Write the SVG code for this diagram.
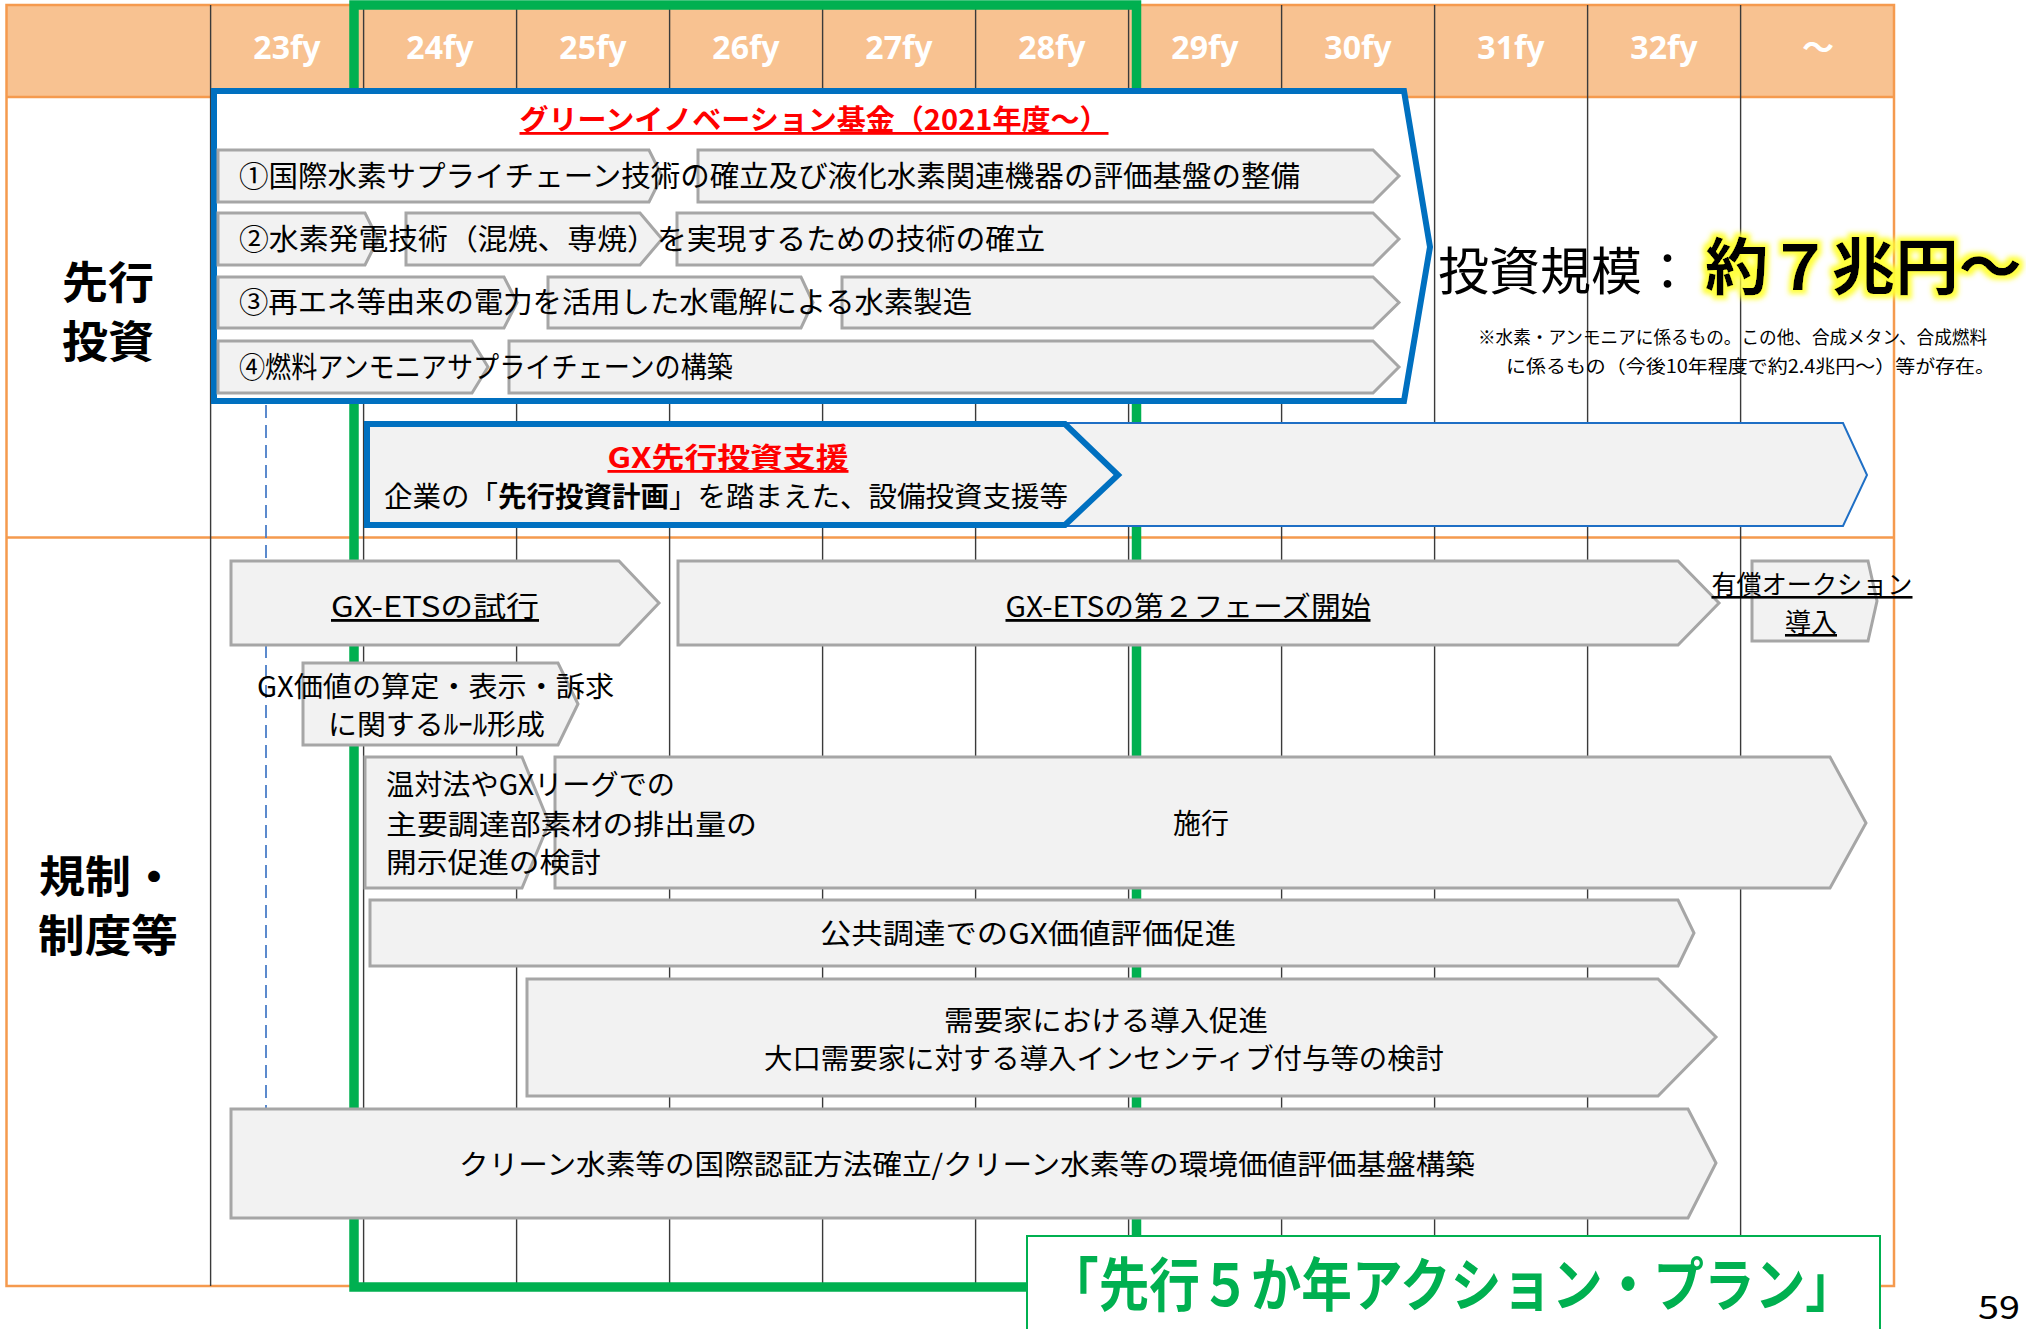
<svg xmlns="http://www.w3.org/2000/svg" width="2026" height="1329" viewBox="0 0 2026 1329">
<defs>
<style>
text{font-family:"Noto Sans CJK JP","Noto Sans",sans-serif;fill:#000}
.hd{font-family:"Noto Sans","Noto Sans CJK JP",sans-serif;font-weight:700;font-size:32px;fill:#fff;text-anchor:middle}
.col{stroke:#3a3a3a;stroke-width:1.4}
.org{stroke:#F59A4E;stroke-width:2.5;fill:none}
.chev{fill:#F2F2F2;stroke:#A6A6A6;stroke-width:3}
.t29{font-size:29px}
.t28{font-size:28px}
.mid{text-anchor:middle}
.ul{text-decoration:underline}
.side{font-size:44px;font-weight:700;text-anchor:middle}
</style>
<filter id="glow" x="-10%" y="-30%" width="120%" height="160%">
<feMorphology in="SourceAlpha" operator="dilate" radius="3.5" result="d"/>
<feGaussianBlur in="d" stdDeviation="2.8" result="b"/>
<feFlood flood-color="#FFFF33" flood-opacity="0.95"/>
<feComposite in2="b" operator="in" result="g"/>
<feMerge><feMergeNode in="g"/><feMergeNode in="SourceGraphic"/></feMerge>
</filter>
</defs>
<rect width="2026" height="1329" fill="#fff"/>

<g id="grid">
<rect x="6.5" y="5" width="1887.5" height="92" fill="#F8C291"/>
<g class="org">
<rect x="6.5" y="5" width="1887.5" height="1281"/>
<line x1="6.5" y1="97" x2="1894" y2="97"/>
<line x1="6.5" y1="537.5" x2="1894" y2="537.5"/>
</g>
<g class="col">
<line x1="210.6" y1="5" x2="210.6" y2="1286"/>
<line x1="363.6" y1="5" x2="363.6" y2="1286"/>
<line x1="516.6" y1="5" x2="516.6" y2="1286"/>
<line x1="669.6" y1="5" x2="669.6" y2="1286"/>
<line x1="822.6" y1="5" x2="822.6" y2="1286"/>
<line x1="975.6" y1="5" x2="975.6" y2="1286"/>
<line x1="1128.6" y1="5" x2="1128.6" y2="1286"/>
<line x1="1281.6" y1="5" x2="1281.6" y2="1286"/>
<line x1="1434.6" y1="5" x2="1434.6" y2="1286"/>
<line x1="1587.6" y1="5" x2="1587.6" y2="1286"/>
<line x1="1740.6" y1="5" x2="1740.6" y2="1286"/>
</g>
<g id="header-labels">
<text class="hd" x="287" y="59">23fy</text>
<text class="hd" x="440" y="59">24fy</text>
<text class="hd" x="593" y="59">25fy</text>
<text class="hd" x="746" y="59">26fy</text>
<text class="hd" x="899" y="59">27fy</text>
<text class="hd" x="1052" y="59">28fy</text>
<text class="hd" x="1205" y="59">29fy</text>
<text class="hd" x="1358" y="59">30fy</text>
<text class="hd" x="1511" y="59">31fy</text>
<text class="hd" x="1664" y="59">32fy</text>
<text class="hd" x="1818" y="59">～</text>
</g>
<text class="side" x="108" y="299" textLength="92" lengthAdjust="spacingAndGlyphs">先行</text>
<text class="side" x="108" y="358" textLength="92" lengthAdjust="spacingAndGlyphs">投資</text>
<text class="side" x="108" y="893" textLength="138" lengthAdjust="spacingAndGlyphs">規制・</text>
<text class="side" x="108" y="952" textLength="140" lengthAdjust="spacingAndGlyphs">制度等</text>
</g>

<rect id="five-year-frame" x="354" y="5" width="782.5" height="1282" fill="none" stroke="#00B050" stroke-width="9.5"/>

<g id="connectors">
<line x1="266" y1="405" x2="266" y2="1108" stroke="#4A7EC8" stroke-width="1.8" stroke-dasharray="13,7"/>
</g>

<g id="green-innovation-fund">
<path d="M214,91 H1404 L1430,247 L1404,401 H214 Z" fill="#fff" stroke="#0070C0" stroke-width="6"/>
<text class="ul" x="814" y="130" font-size="28" font-weight="700" text-anchor="middle" textLength="589" lengthAdjust="spacingAndGlyphs" style="fill:#FF0000">グリーンイノベーション基金（2021年度～）</text>
<path class="chev" d="M218,150 H649 L662,176 L649,202 H218 Z"/>
<path class="chev" d="M698,150 H1373 L1399,176 L1373,202 H698 Z"/>
<path class="chev" d="M218,213 H365 L378,239 L365,265 H218 Z"/>
<path class="chev" d="M406,213 H640 L662,239 L640,265 H406 Z"/>
<path class="chev" d="M677,213 H1373 L1399,239 L1373,265 H677 Z"/>
<path class="chev" d="M218,277 H504 L517,302.5 L504,328 H218 Z"/>
<path class="chev" d="M548,277 H801 L813,302.5 L801,328 H548 Z"/>
<path class="chev" d="M842,277 H1373 L1399,302.5 L1373,328 H842 Z"/>
<path class="chev" d="M218,341 H472 L488,367 L472,393 H218 Z"/>
<path class="chev" d="M509,341 H1373 L1399,367 L1373,393 H509 Z"/>
<text class="t29" x="239" y="187" textLength="1061" lengthAdjust="spacingAndGlyphs">①国際水素サプライチェーン技術の確立及び液化水素関連機器の評価基盤の整備</text>
<text class="t29" x="239" y="250" textLength="806" lengthAdjust="spacingAndGlyphs">②水素発電技術（混焼、専焼）を実現するための技術の確立</text>
<text class="t29" x="239" y="313" textLength="733" lengthAdjust="spacingAndGlyphs">③再エネ等由来の電力を活用した水電解による水素製造</text>
<text class="t29" x="239" y="378" textLength="494" lengthAdjust="spacingAndGlyphs">④燃料アンモニアサプライチェーンの構築</text>
</g>

<g id="investment-scale">
<text x="1438" y="290" font-size="51">投資規模：</text>
<text x="1705" y="290" font-size="62" font-weight="700" filter="url(#glow)" textLength="317" lengthAdjust="spacingAndGlyphs">約７兆円～</text>
<text x="1478" y="344" font-size="18" textLength="509" lengthAdjust="spacingAndGlyphs">※水素・アンモニアに係るもの。この他、合成メタン、合成燃料</text>
<text x="1506" y="373" font-size="18" textLength="489" lengthAdjust="spacingAndGlyphs">に係るもの（今後10年程度で約2.4兆円～）等が存在。</text>
</g>

<g id="gx-investment-support">
<path d="M367,423 H1843 L1867,475 L1843,526 H367 Z" fill="#F2F2F2" stroke="#1F6FC5" stroke-width="2"/>
<path d="M367,424 H1065 L1118,475 L1065,525 H367 Z" fill="#F2F2F2" stroke="#0070C0" stroke-width="6"/>
<text class="ul" x="728" y="468" font-size="28" font-weight="700" text-anchor="middle" textLength="241" lengthAdjust="spacingAndGlyphs" style="fill:#FF0000">GX先行投資支援</text>
<text x="384" y="507" font-size="28.5">企業の「<tspan font-weight="700">先行投資計画</tspan>」を踏まえた、設備投資支援等</text>
</g>

<g id="gx-ets-trial">
<path class="chev" d="M231,561 H619 L659,603 L619,645 H231 Z"/>
<text class="t28 mid ul" x="435" y="617" textLength="208" lengthAdjust="spacingAndGlyphs">GX-ETSの試行</text>
</g>
<g id="gx-ets-phase2">
<path class="chev" d="M678,561 H1678 L1719,603 L1678,645 H678 Z"/>
<text class="t28 mid ul" x="1188" y="617" textLength="365" lengthAdjust="spacingAndGlyphs">GX-ETSの第２フェーズ開始</text>
</g>
<g id="paid-auction">
<path class="chev" d="M1752,561 H1868 L1877,601 L1868,641 H1752 Z"/>
<text class="mid ul" x="1812" y="594" font-size="26" textLength="201" lengthAdjust="spacingAndGlyphs">有償オークション</text>
<text class="mid ul" x="1811" y="632" font-size="26">導入</text>
</g>
<g id="gx-value-rules">
<path class="chev" d="M303,663 H558 L578,704 L558,745 H303 Z"/>
<text class="t28 mid" x="435.5" y="697" textLength="357" lengthAdjust="spacingAndGlyphs">GX価値の算定・表示・訴求</text>
<text class="t28 mid" x="436.5" y="735" textLength="217" lengthAdjust="spacingAndGlyphs">に関するﾙｰﾙ形成</text>
</g>
<g id="disclosure-study">
<path class="chev" d="M365,757 H522 L549,823 L522,888 H365 Z"/>
</g>
<g id="enforcement">
<path class="chev" d="M555,757 H1830 L1866,823 L1830,888 H555 Z"/>
<text class="t28 mid" x="1201" y="834">施行</text>
</g>
<g id="disclosure-text">
<text class="t28" x="386" y="795" textLength="289" lengthAdjust="spacingAndGlyphs">温対法やGXリーグでの</text>
<text class="t28" x="386" y="835" textLength="371" lengthAdjust="spacingAndGlyphs">主要調達部素材の排出量の</text>
<text class="t28" x="386" y="873" textLength="215" lengthAdjust="spacingAndGlyphs">開示促進の検討</text>
</g>
<g id="public-procurement">
<path class="chev" d="M370,900 H1678 L1694,933 L1678,966 H370 Z"/>
<text class="t28 mid" x="1028" y="944" textLength="416" lengthAdjust="spacingAndGlyphs">公共調達でのGX価値評価促進</text>
</g>
<g id="demand-side">
<path class="chev" d="M527,979 H1658 L1716,1037 L1658,1096 H527 Z"/>
<text class="t28 mid" x="1106" y="1031" textLength="324" lengthAdjust="spacingAndGlyphs">需要家における導入促進</text>
<text class="t28 mid" x="1104" y="1069" textLength="680" lengthAdjust="spacingAndGlyphs">大口需要家に対する導入インセンティブ付与等の検討</text>
</g>
<g id="clean-hydrogen-certification">
<path class="chev" d="M231,1109 H1688 L1716,1163 L1688,1218 H231 Z"/>
<text class="t28 mid" x="967" y="1175" textLength="1016" lengthAdjust="spacingAndGlyphs">クリーン水素等の国際認証方法確立/クリーン水素等の環境価値評価基盤構築</text>
</g>

<g id="five-year-plan-label">
<rect x="1027" y="1236" width="853" height="100" fill="#fff" stroke="#00B050" stroke-width="2"/>
<text x="1048" y="1306" font-size="58" font-weight="700" textLength="808" lengthAdjust="spacingAndGlyphs" style="fill:#00B050">「先行５か年アクション・プラン」</text>
</g>

<text id="page-number" x="1978" y="1319" font-size="32" textLength="42" lengthAdjust="spacingAndGlyphs">59</text>
</svg>
